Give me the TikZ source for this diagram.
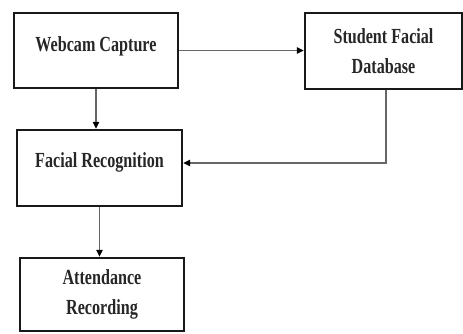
\documentclass[tikz,border=0pt]{standalone}
\usepackage{fontspec}
\setmainfont{Liberation Serif}[FakeStretch=0.75]
\usetikzlibrary{arrows.meta}
\begin{document}
\begin{tikzpicture}[x=1pt,y=-1pt,
  box/.style={draw=black!90, line width=2.4pt, align=center, inner sep=0pt,
    font=\fontsize{21.5}{29.5}\selectfont\bfseries, text=black!85},
  arr/.style={draw=black!60, line width=1.3pt, -{Triangle[length=7pt,width=6.5pt,color=black]}}]
\useasboundingbox (0,0) rectangle (463,333);
\node[box, minimum width=164pt, minimum height=75pt, text depth=12pt] (w) at (96,50.5) {Webcam Capture};
\node[box, minimum width=157pt, minimum height=76pt] (db) at (383.5,51) {Student Facial\\Database};
\node[box, minimum width=165pt, minimum height=76pt, text depth=16pt] (fr) at (99.5,168) {Facial Recognition};
\node[box, minimum width=164pt, minimum height=73pt] (at) at (102,294.5) {Attendance\\Recording};
\draw[arr] (w.east) -- (w.east -| db.west);
\draw[arr] (w.south) -- (w.south |- fr.north);
\draw[arr] ([xshift=2.5pt]db.south) |- ([yshift=5pt]fr.east);
\draw[arr] (fr.south) -- (fr.south |- at.north);
\end{tikzpicture}
\end{document}
